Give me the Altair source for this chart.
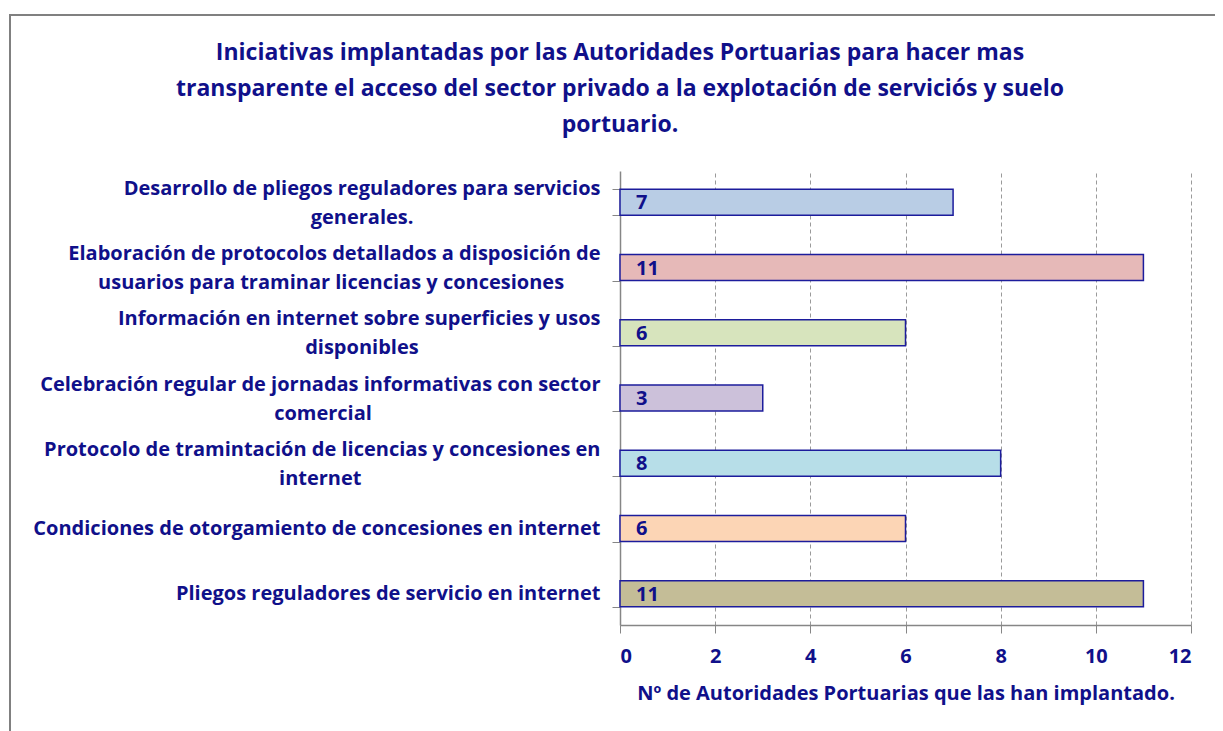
import altair as alt
import pandas as pd

categories = [
    "Desarrollo de pliegos reguladores para servicios|generales.",
    "Elaboración de protocolos detallados a disposición de|usuarios para traminar licencias y concesiones",
    "Información en internet sobre superficies y usos|disponibles",
    "Celebración regular de jornadas informativas con sector|comercial",
    "Protocolo de tramintación de licencias y concesiones en|internet",
    "Condiciones de otorgamiento de concesiones en internet",
    "Pliegos reguladores de servicio en internet",
]
values = [7, 11, 6, 3, 8, 6, 11]
colors = ["#B9CDE5", "#E6B9B8", "#D7E4BD", "#CCC1DA", "#B7DEE8", "#FCD5B5", "#C4BD97"]
title_lines = [
    "Iniciativas implantadas por las Autoridades Portuarias para  hacer mas",
    "transparente el acceso del sector privado a la explotación de serviciós y suelo",
    "portuario.",
]

# style only: non-breaking spaces appended to second label lines so they look centred
second_line_pad = [36, 7, 35, 44, 46, 0, 0]
display = [c + "\u00a0" * p + ("\u200b" if p else "") for c, p in zip(categories, second_line_pad)]

df = pd.DataFrame({"cat": display, "val": values, "col": colors})

NAVY = "#10108a"
FONT = "Open Sans"

y_enc = alt.Y("cat:N", sort=display, title=None,
              scale=alt.Scale(paddingInner=0.6, paddingOuter=0.28),
              axis=alt.Axis(labelExpr="isValid(datum.value) ? split(datum.value, '|') : ''",
                            labelFontSize=20,
                            labelFont=FONT, labelFontWeight="bold", labelColor=NAVY,
                            labelLineHeight=29, labelPadding=12, labelLimit=700,
                            labelOffset={"condition": {"test": "isValid(datum.value) && indexof(datum.value, '|') >= 0", "value": -14},
                                         "value": 0},
                            tickBand="extent", tickSize=8, tickColor="#868686",
                            domainColor="#868686", domainWidth=1.5, grid=False))

x_enc = alt.X("val:Q", title="Nº de Autoridades Portuarias que las han implantado.",
              scale=alt.Scale(domain=[0, 12], nice=False),
              axis=alt.Axis(values=[0, 2, 4, 6, 8, 10, 12], labelFontSize=20,
                            labelFont=FONT, labelFontWeight="bold", labelColor=NAVY,
                            labelPadding=13, tickSize=8, tickColor="#868686",
                            domainColor="#868686", domainWidth=1.5,
                            grid=True, gridColor="#9a9a9a", gridDash=[4, 3],
                            titleFont=FONT, titleFontSize=20, titleFontWeight="bold",
                            titleColor=NAVY, titlePadding=17))

bars = alt.Chart(df).mark_bar(stroke="#1c1c9c", strokeWidth=1.5).encode(
    y=y_enc, x=x_enc, color=alt.Color("col:N", scale=None)
)

labels = alt.Chart(df).mark_text(align="left", baseline="middle", dx=16, dy=1,
                                 font=FONT, fontSize=20, fontWeight="bold",
                                 color=NAVY).encode(
    y=alt.Y("cat:N", sort=display),
    x=alt.datum(0),
    text="val:Q",
)

deco = alt.Data(values=[{"k": 1}])

frame = alt.Chart(deco).mark_rect(fill=None, stroke="#808080", strokeWidth=2).encode(
    x=alt.value(-610), x2=alt.value(598), y=alt.value(-156), y2=alt.value(600)
)

title = alt.Chart(deco).mark_text(
    text=title_lines, lineHeight=36, align="center", baseline="middle",
    font=FONT, fontSize=23, fontWeight="bold", color=NAVY,
).encode(x=alt.value(0), y=alt.value(-118))

chart = alt.layer(bars, labels, frame, title).properties(
    width=571, height=454,
    autosize=alt.AutoSizeParams(type="none"),
    padding={"left": 612, "top": 163, "right": 24, "bottom": 106},
).configure_view(stroke=None)

chart.save("out.html", embed_options={"renderer": "svg", "actions": False})
